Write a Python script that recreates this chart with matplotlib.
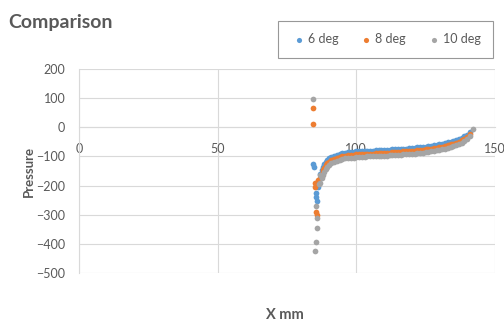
import matplotlib
matplotlib.use("Agg")
import matplotlib.pyplot as plt

plt.rcParams['font.family'] = ['Lato', 'DejaVu Sans']

# curve x positions shared by the three series
x_curve = [87.0, 87.5, 88.0, 88.5, 89.0, 89.5, 90.0, 91.0, 92.0, 93.0, 94.0, 95.0,
           96.0, 97.0, 98.0, 99.0, 100, 101, 102, 103, 104, 105, 106, 107, 108, 109,
           110, 111, 112, 113, 114, 115, 116, 117, 118, 119, 120, 121, 122, 123, 124,
           125, 126, 127, 128, 129, 130, 131, 132, 133, 134, 135, 136, 137, 138, 139,
           140, 141]

y_6deg = [-160, -145, -135, -125, -118, -112, -107, -101, -97, -94, -91, -89,
          -87, -86, -85, -84, -83, -82, -82, -81, -81, -80, -80, -79, -79, -78,
          -78, -77, -77, -76, -76, -75, -74, -74, -73, -72, -71, -70, -69, -68, -67,
          -66, -65, -63, -62, -60, -58, -56, -54, -52, -49, -46, -43, -40, -36, -31,
          -25, -17]
y_8deg = [-175, -160, -148, -138, -130, -124, -118, -112, -108, -104, -101, -99,
          -97, -96, -95, -94, -93, -92, -92, -91, -91, -90, -90, -89, -89, -88,
          -88, -87, -87, -86, -85, -85, -84, -83, -83, -82, -81, -80, -79, -78, -77,
          -76, -74, -73, -71, -70, -68, -66, -64, -62, -59, -56, -53, -49, -45, -40,
          -33, -24]
y_10deg = [-190, -175, -162, -152, -143, -136, -130, -123, -118, -114, -111, -109,
           -107, -106, -105, -104, -103, -102, -102, -101, -100, -100, -99, -99, -98, -98,
           -97, -97, -96, -96, -95, -94, -94, -93, -92, -92, -91, -90, -89, -88, -87,
           -85, -84, -82, -81, -79, -77, -75, -73, -71, -68, -65, -62, -58, -53, -47,
           -40, -30]

# scattered points near the leading edge
x_6deg_lead = [84.5, 84.6, 85.3, 85.5, 85.8, 86.2]
y_6deg_lead = [-125, -135, -225, -240, -252, -205]
x_8deg_lead = [84.3, 84.4, 85.0, 85.2, 85.6, 85.9, 86.3]
y_8deg_lead = [65, 12, -190, -205, -290, -300, -180]
x_10deg_lead = [84.2, 85.4, 85.7, 85.9, 85.3, 85.1, 86.5, 86.8, 142.0]
y_10deg_lead = [97, -270, -310, -345, -395, -425, -195, -165, -7]

series = [
    ("6 deg", "#5B9BD5", x_6deg_lead + x_curve, y_6deg_lead + y_6deg),
    ("8 deg", "#ED7D31", x_8deg_lead + x_curve, y_8deg_lead + y_8deg),
    ("10 deg", "#A5A5A5", x_10deg_lead + x_curve, y_10deg_lead + y_10deg),
]

txt = "#595959"
grid = "#D9D9D9"

fig = plt.figure(figsize=(5.04, 3.27), dpi=100)
ax = fig.add_axes([0.157, 0.165, 0.825, 0.624])

for name, col, xs, ys in series:
    ax.scatter(xs, ys, s=17, color=col, label=name, zorder=3, linewidths=0)

ax.set_xlim(0, 150)
ax.set_ylim(-500, 200)
ax.set_xticks([0, 50, 100, 150])
ax.set_yticks(range(-500, 201, 100))
ax.grid(True, color=grid, linewidth=0.8, zorder=0)
ax.set_axisbelow(True)

for s in ("top", "right"):
    ax.spines[s].set_visible(False)
ax.spines["bottom"].set_position(("data", 0))
ax.spines["bottom"].set_color(grid)
ax.spines["left"].set_color(grid)
ax.tick_params(axis="both", length=0, colors=txt, labelsize=9)
ax.tick_params(axis="x", pad=11)
ax.tick_params(axis="y", pad=10)

ax.set_ylabel("Pressure", color=txt, fontsize=9.5, fontweight="bold", labelpad=1)
fig.text(0.565, 0.025, "X mm", color=txt, fontsize=10.5, fontweight="bold", ha="center")
fig.text(0.016, 0.915, "Comparison", color=txt, fontsize=14, fontweight="bold")

leg = fig.legend(loc="upper right", bbox_to_anchor=(0.978, 0.936), ncol=3,
                 fontsize=9, frameon=True, fancybox=False, handletextpad=0.05,
                 columnspacing=1.6, markerscale=0.9, borderpad=1.0,
                 handlelength=1.3, borderaxespad=0)
leg.get_frame().set_edgecolor("#7F7F7F")
leg.get_frame().set_linewidth(0.8)
for t in leg.get_texts():
    t.set_color(txt)

fig.savefig("out.png", dpi=100)
